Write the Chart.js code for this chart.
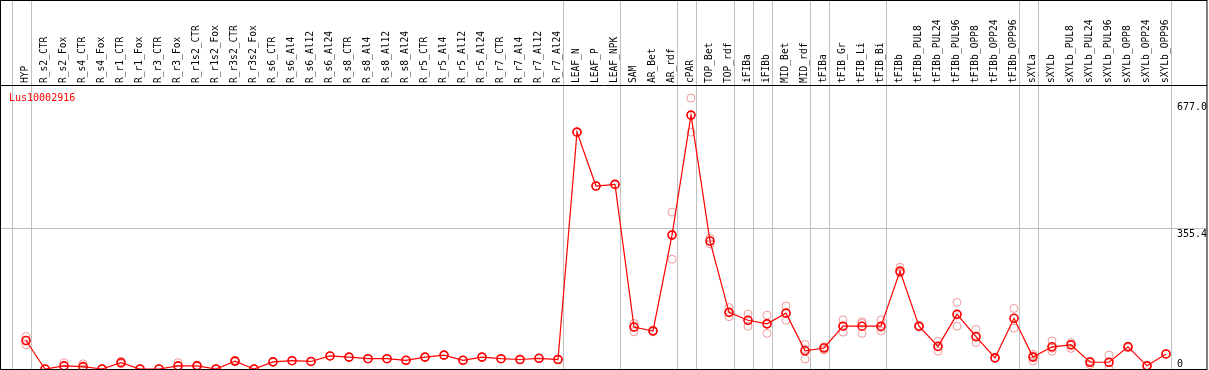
<!DOCTYPE html>
<html>
<head>
<meta charset="utf-8">
<script src="https://cdn.jsdelivr.net/npm/chart.js@4/dist/chart.umd.min.js"></script>
<style>
  html, body { margin: 0; padding: 0; background: #fff; }
  #wrap { width: 1209px; height: 370px; }
</style>
</head>
<body>
<div id="wrap"><canvas id="exprChart"></canvas></div>
<script>
// Sample groups (tick labels along the top)
const categories = [
    "HYP", "R_s2_CTR", "R_s2_Fox", "R_s4_CTR", "R_s4_Fox", "R_r1_CTR", "R_r1_Fox",
    "R_r3_CTR", "R_r3_Fox", "R_r1s2_CTR", "R_r1s2_Fox", "R_r3s2_CTR", "R_r3s2_Fox",
    "R_s6_CTR", "R_s6_Al4", "R_s6_Al12", "R_s6_Al24", "R_s8_CTR", "R_s8_Al4", "R_s8_Al12",
    "R_s8_Al24", "R_r5_CTR", "R_r5_Al4", "R_r5_Al12", "R_r5_Al24", "R_r7_CTR", "R_r7_Al4",
    "R_r7_Al12", "R_r7_Al24", "LEAF_N", "LEAF_P", "LEAF_NPK", "SAM", "AR_Bet", "AR_rdf",
    "cPAR", "TOP_Bet", "TOP_rdf", "iFIBa", "iFIBb", "MID_Bet", "MID_rdf", "tFIBa",
    "tFIB_Gr", "tFIB_Li", "tFIB_Bi", "tFIBb", "tFIBb_PUL8", "tFIBb_PUL24", "tFIBb_PUL96",
    "tFIBb_OPP8", "tFIBb_OPP24", "tFIBb_OPP96", "sXYLa", "sXYLb", "sXYLb_PUL8",
    "sXYLb_PUL24", "sXYLb_PUL96", "sXYLb_OPP8", "sXYLb_OPP24", "sXYLb_OPP96"
];

// Mean expression per sample
const meanValues = [
    72, 0, 8, 6, 0, 16, 0, 0, 8, 8, 0, 20, 0,
    18, 21, 19, 33, 30, 26, 26, 22, 30, 35, 22, 30, 26, 24, 27, 24,
    598, 462, 466, 106, 96, 338, 641, 323, 143, 123, 114, 141, 46, 53,
    108, 108, 108, 247, 108, 57, 138, 82, 28, 128, 30, 56, 61,
    17, 17, 56, 8, 38
];

// Individual replicates
const repA = [
    82, 0, 16, 13, 0, 19, 0, 0, 16, 10, 0, 22, 0,
    18, 21, 19, 33, 30, 26, 26, 22, 30, 35, 22, 30, 26, 24, 27, 24,
    598, 462, 466, 115, 98, 396, 684, 330, 155, 139, 136, 159, 62, 55,
    124, 119, 124, 257, 110, 70, 168, 100, 29, 153, 37, 71, 67,
    20, 35, 58, 9, 38
];
const repB = [
    61, 0, 0, 0, 0, 13, 0, 0, 0, 6, 0, 18, 0,
    18, 21, 19, 33, 30, 26, 26, 22, 30, 35, 22, 30, 26, 24, 27, 24,
    598, 462, 466, 94, 94, 277, 598, 316, 132, 108, 90, 123, 25, 48,
    93, 90, 96, 242, 106, 45, 108, 67, 27, 103, 20, 45, 52,
    11, 0, 54, 7, 38
];
const repC = [
    72, 0, 8, 6, 0, 16, 0, 0, 8, 8, 0, 20, 0,
    18, 21, 19, 33, 30, 26, 26, 22, 30, 35, 22, 30, 26, 24, 27, 24,
    598, 462, 466, 106, 96, 340, 641, 323, 143, 123, 115, 141, 50, 55,
    108, 115, 105, 244, 108, 57, 138, 80, 28, 128, 33, 53, 62,
    19, 16, 56, 8, 38
];

// Y axis labels and group separators (index of last sample in each group)
const yTickValues = [0, 355.4, 677.0];
const yTickLabels = ["0", "355.4", "677.0"];
const groupEnds = [-1, 0, 28, 31, 34, 35, 37, 38, 39, 41, 42, 45, 52, 53, 60];
const geneName = "Lus10002916";

const mono = "'DejaVu Sans Mono', monospace";
const toPoints = arr => arr.map((v, i) => ({ x: i, y: v }));

const noPadding = scale => {
    scale.paddingLeft = 0;
    scale.paddingRight = 0;
    scale.paddingTop = 0;
    scale.paddingBottom = 0;
};

// group lines, frame, gene name and y labels
const decorPlugin = {
    id: "decor",
    beforeDatasetsDraw(chart) {
        const { ctx, chartArea, scales } = chart;
        ctx.save();
        ctx.strokeStyle = "#c0c0c0";
        ctx.lineWidth = 1;
        groupEnds.forEach(i => {
            const x = Math.round(scales.x.getPixelForValue(i) + 4.5) + 0.5;
            ctx.beginPath();
            ctx.moveTo(x, 0);
            ctx.lineTo(x, chartArea.bottom);
            ctx.stroke();
        });
        ctx.restore();
    },
    afterDraw(chart) {
        const { ctx, chartArea, scales } = chart;
        ctx.save();
        ctx.strokeStyle = "#000";
        ctx.lineWidth = 1;
        ctx.strokeRect(0.5, 0.5, chartArea.right - 0.5, chartArea.bottom);
        ctx.beginPath();
        ctx.moveTo(0, chartArea.top + 0.5);
        ctx.lineTo(chartArea.right, chartArea.top + 0.5);
        ctx.stroke();

        ctx.font = "10px " + mono;
        ctx.fillStyle = "#ff0000";
        ctx.textBaseline = "alphabetic";
        ctx.fillText(geneName, chartArea.left + 8, chartArea.top + 16);

        ctx.fillStyle = "#000";
        yTickValues.forEach((v, k) => {
            let y = scales.y.getPixelForValue(v) + 9;
            if (y > chartArea.bottom - 2) y = chartArea.bottom - 2;
            ctx.fillText(yTickLabels[k], 1177, y);
        });
        ctx.restore();
    }
};

const ctx = document.getElementById("exprChart").getContext("2d");

const replicateStyle = {
    type: "scatter",
    showLine: false,
    pointStyle: "circle",
    pointRadius: 4,
    pointBorderWidth: 1,
    pointBorderColor: "rgba(235, 120, 120, 0.75)",
    pointBackgroundColor: "transparent",
    order: 2
};

const exprChart = new Chart(ctx, {
    type: "line",
    data: {
        datasets: [
            {
                label: "Mean",
                data: toPoints(meanValues),
                borderColor: "#ff0000",
                borderWidth: 1.2,
                pointRadius: 4,
                pointBorderWidth: 1.6,
                pointBorderColor: "#ff0000",
                pointBackgroundColor: "transparent",
                tension: 0,
                order: 1
            },
            Object.assign({ label: "rep A", data: toPoints(repA) }, replicateStyle),
            Object.assign({ label: "rep B", data: toPoints(repB) }, replicateStyle),
            Object.assign({ label: "rep C", data: toPoints(repC) }, replicateStyle)
        ]
    },
    options: {
        responsive: true,
        maintainAspectRatio: false,
        animation: false,
        layout: { autoPadding: false, padding: { left: 1, right: 2, top: 0, bottom: 1 } },
        scales: {
            x: {
                type: "linear",
                position: "top",
                min: -25 / 19,
                max: -25 / 19 + 1206 / 19,
                grid: { display: false, drawTicks: false },
                border: { display: false },
                afterBuildTicks: scale => {
                    scale.ticks = categories.map((c, i) => ({ value: i }));
                },
                afterFit: scale => {
                    scale.height = 85;
                    noPadding(scale);
                },
                ticks: {
                    autoSkip: false,
                    minRotation: 90,
                    maxRotation: 90,
                    padding: 2,
                    labelOffset: 11,
                    color: "#000",
                    font: { family: mono, size: 9.6 },
                    callback: v => categories[v]
                }
            },
            y: {
                min: 0,
                max: 717,
                grid: {
                    drawTicks: false,
                    color: c => (c.tick && c.tick.value === 355.4 ? "#c0c0c0" : "transparent")
                },
                border: { display: false },
                afterBuildTicks: scale => {
                    scale.ticks = yTickValues.map(v => ({ value: v }));
                },
                afterFit: scale => {
                    scale.width = 0;
                    noPadding(scale);
                },
                ticks: { display: false }
            }
        },
        plugins: {
            legend: { display: false },
            tooltip: { enabled: false }
        }
    },
    plugins: [decorPlugin]
});
</script>
</body>
</html>
